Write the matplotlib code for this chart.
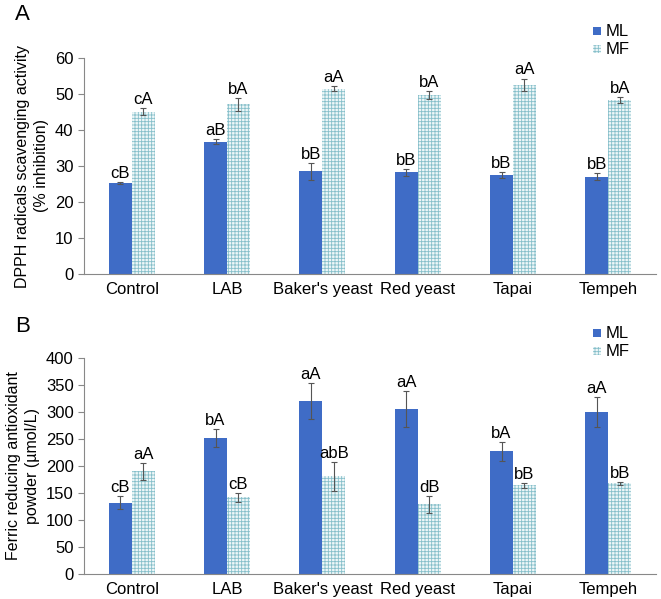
import matplotlib
matplotlib.use("Agg")
import matplotlib.pyplot as plt
import numpy as np

plt.rcParams['font.family'] = ['Liberation Sans', 'DejaVu Sans']
plt.rcParams['hatch.linewidth'] = 0.6

categories = ["Control", "LAB", "Baker's yeast", "Red yeast", "Tapai", "Tempeh"]

dpph_ml = [25.3, 36.8, 28.5, 28.2, 27.4, 27.0]
dpph_ml_err = [0.3, 0.8, 2.3, 1.0, 0.8, 1.0]
dpph_mf = [45.1, 47.1, 51.4, 49.7, 52.6, 48.3]
dpph_mf_err = [1.0, 1.8, 0.7, 1.2, 1.7, 0.8]
dpph_ml_lbl = ["cB", "aB", "bB", "bB", "bB", "bB"]
dpph_mf_lbl = ["cA", "bA", "aA", "bA", "aA", "bA"]

frap_ml = [132, 252, 320, 305, 227, 300]
frap_ml_err = [12, 17, 33, 33, 17, 27]
frap_mf = [190, 142, 181, 129, 164, 168]
frap_mf_err = [16, 8, 27, 16, 4, 3]
frap_ml_lbl = ["cB", "bA", "aA", "aA", "bA", "aA"]
frap_mf_lbl = ["aA", "cB", "abB", "dB", "bB", "bB"]

ML_COLOR = "#3F6CC6"
MF_FACE = "#eef7f8"
MF_HATCH = "#86bfca"
FS = 12

W, H = 661, 599
fig = plt.figure(figsize=(W/100, H/100), dpi=100)

def panel(rect, ml, ml_err, mf, mf_err, ml_lbl, mf_lbl, ymax, ystep, ylabel, letter, letter_pos, leg_pos, lbl_off):
    l, b, r, t = rect
    ax = fig.add_axes([l/W, 1-b/H, (r-l)/W, (b-t)/H])
    x = np.arange(len(categories))
    w = 0.24
    ax.bar(x - w/2, ml, w, color=ML_COLOR, yerr=ml_err,
           error_kw=dict(ecolor="#555555", elinewidth=0.8, capsize=2, capthick=0.8), zorder=2)
    ax.bar(x + w/2, mf, w, color=MF_FACE, edgecolor=MF_HATCH, hatch="+++++", linewidth=0, yerr=mf_err,
           error_kw=dict(ecolor="#555555", elinewidth=0.8, capsize=2, capthick=0.8), zorder=2)
    for i in range(len(categories)):
        ax.text(x[i] - w/2, ml[i] + ml_err[i] + lbl_off, ml_lbl[i], ha="center", va="bottom", fontsize=FS)
        ax.text(x[i] + w/2, mf[i] + mf_err[i] + lbl_off, mf_lbl[i], ha="center", va="bottom", fontsize=FS)
    ax.set_xlim(-0.5, len(categories) - 0.5)
    ax.set_ylim(0, ymax)
    ax.set_yticks(np.arange(0, ymax + 1, ystep))
    ax.set_xticks(x)
    ax.set_xticklabels(categories, fontsize=FS)
    ax.tick_params(axis="y", labelsize=FS, length=4, width=0.8, color="#888888")
    ax.tick_params(axis="x", length=0, pad=6)
    for s in ["top", "right"]:
        ax.spines[s].set_visible(False)
    ax.spines["left"].set_color("#888888")
    ax.spines["bottom"].set_color("#888888")
    ax.set_ylabel(ylabel, fontsize=11.5, linespacing=1.35)
    fig.text(letter_pos[0]/W, 1-letter_pos[1]/H, letter, fontsize=16, va="center", ha="left")
    # legend
    lx, ly = leg_pos
    fig.patches.append(plt.Rectangle((lx/W, 1-(ly+4)/H), 8/W, 8/H, transform=fig.transFigure,
                                     facecolor=ML_COLOR, edgecolor="none"))
    fig.patches.append(plt.Rectangle((lx/W, 1-(ly+22)/H), 8/W, 8/H, transform=fig.transFigure,
                                     facecolor=MF_FACE, edgecolor=MF_HATCH, hatch="+++++", linewidth=0))
    fig.text((lx+13)/W, 1-ly/H, "ML", fontsize=FS, va="center")
    fig.text((lx+13)/W, 1-(ly+18)/H, "MF", fontsize=FS, va="center")
    return ax

panel((84, 274, 656, 58), dpph_ml, dpph_ml_err, dpph_mf, dpph_mf_err, dpph_ml_lbl, dpph_mf_lbl,
      60, 10, "DPPH radicals scavenging activity\n(% inhibition)", "A", (15, 14), (593, 31), 0.3)
panel((84, 574, 656, 358), frap_ml, frap_ml_err, frap_mf, frap_mf_err, frap_ml_lbl, frap_mf_lbl,
      400, 50, "Ferric reducing antioxidant\npowder (µmol/L)", "B", (15, 326), (593, 333), 2)

fig.savefig("out.png", dpi=100)
